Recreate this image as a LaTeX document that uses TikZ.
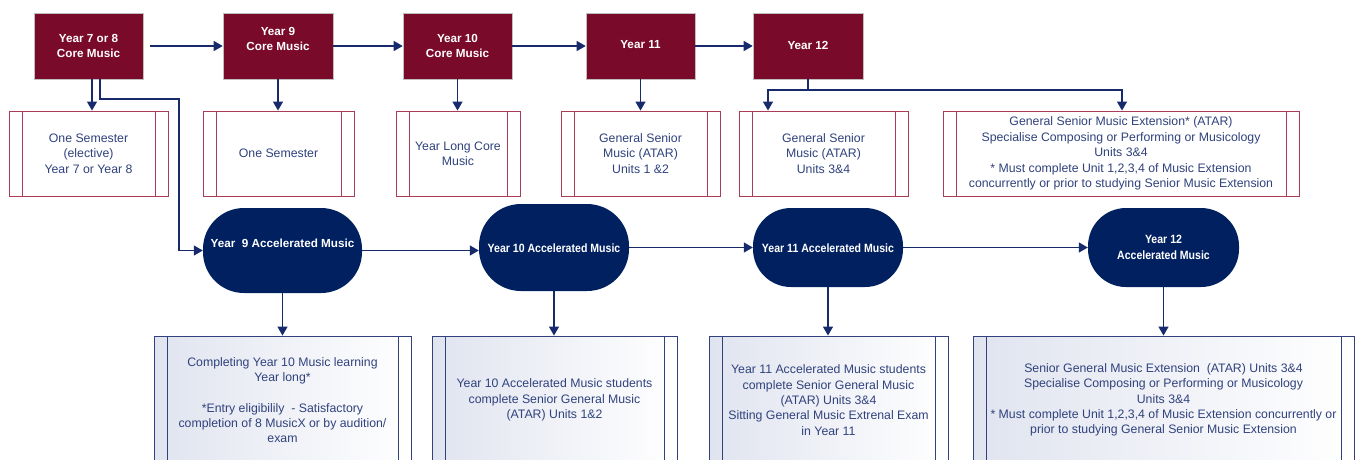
\documentclass[tikz,border=0pt]{standalone}
\usepackage{fontspec}
\setmainfont{Liberation Sans}
\newfontfamily\narrowsans{Liberation Sans}[FakeStretch=0.88]
\usetikzlibrary{arrows.meta}
\definecolor{cMaroon}{RGB}{122,10,42}
\definecolor{cNavy}{RGB}{0,32,96}
\definecolor{cArrow}{RGB}{22,42,108}
\definecolor{cRowLine}{RGB}{170,60,85}
\definecolor{cText}{RGB}{48,66,125}
\definecolor{cBotLine}{RGB}{50,65,125}
\definecolor{cShade}{RGB}{224,228,239}
\begin{document}
\begin{tikzpicture}[x=1pt,y=-1pt,
  topbox/.style={draw=black!25, line width=0.6pt, fill=cMaroon, inner sep=0, minimum height=66pt},
  toptext/.style={text=white, font=\fontsize{11.7pt}{15pt}\selectfont\bfseries, align=center, inner sep=0},
  procbox/.style={draw=cRowLine, line width=0.9pt, fill=white, inner sep=0, align=center, text=cText,
    minimum height=85pt, font=\fontsize{12.3pt}{15.4pt}\selectfont,
    path picture={\draw[cRowLine, line width=0.9pt]
      ([xshift=13pt]path picture bounding box.north west) -- ([xshift=13pt]path picture bounding box.south west)
      ([xshift=-13pt]path picture bounding box.north east) -- ([xshift=-13pt]path picture bounding box.south east);}},
  botbox/.style={draw=cBotLine, line width=0.9pt, left color=cShade, middle color=white, right color=white, inner sep=0, align=center, text=cText,
    minimum height=128pt, font=\fontsize{12.3pt}{15.3pt}\selectfont,
    path picture={\draw[cBotLine, line width=0.9pt]
      ([xshift=13pt]path picture bounding box.north west) -- ([xshift=13pt]path picture bounding box.south west)
      ([xshift=-13pt]path picture bounding box.north east) -- ([xshift=-13pt]path picture bounding box.south east);}},
  stad/.style={fill=cNavy, draw=none, inner sep=0},
  stadtext/.style={text=white, align=center, inner sep=0, font=\narrowsans\fontsize{12pt}{16pt}\selectfont\bfseries},
  arr/.style={draw=cArrow, line width=1.4pt, -{Triangle[length=9pt,width=10pt]}},
  conn/.style={draw=cArrow, line width=1.4pt}
]
\useasboundingbox (0,0) rectangle (1355,459);
\clip (0,0) rectangle (1355,459);

% top row
\node[topbox, minimum width=109pt] (t1) at (88.5,46) {};
\node[topbox, minimum width=110pt] (t2) at (278,46) {};
\node[topbox, minimum width=109pt] (t3) at (457.5,46) {};
\node[topbox, minimum width=109pt] (t4) at (640.5,46) {};
\node[topbox, minimum width=110pt] (t5) at (808,46) {};
\node[toptext] (t1l) at (88.5,45.5) {Year 7 or 8\\Core Music};
\node[toptext] (t2l) at (278,38.5) {Year 9\\Core Music};
\node[toptext] (t3l) at (457.5,45.5) {Year 10\\Core Music};
\node[toptext] (t4l) at (640.5,45) {Year 11};
\node[toptext] (t5l) at (808,45) {Year 12};

% second row
\node[procbox, minimum width=159pt] (r1) at (88.5,153.5) {One Semester\\(elective)\\Year 7 or Year 8};
\node[procbox, minimum width=151pt] (r2) at (278.5,153.5) {One Semester};
\node[procbox, minimum width=124pt] (r3) at (458,153.5) {Year Long Core\\Music};
\node[procbox, minimum width=159pt] (r4) at (640.5,153.5) {General Senior\\Music (ATAR)\\Units 1 \&2};
\node[procbox, minimum width=169pt] (r5) at (823.5,153.5) {General Senior\\Music (ATAR)\\Units 3\&4};
\node[procbox, minimum width=356pt] (r6) at (1121,153.5) {General Senior Music Extension* (ATAR)\\Specialise Composing or Performing or Musicology\\Units 3\&4\\* Must complete Unit 1,2,3,4 of Music Extension\\concurrently or prior to studying Senior Music Extension};

% accelerated row
\node[stad, minimum width=159pt, minimum height=85pt, rounded corners=41pt] (a1) at (282.5,250.5) {};
\node[stad, minimum width=150pt, minimum height=87pt, rounded corners=42pt] (a2) at (554,247.5) {};
\node[stad, minimum width=150pt, minimum height=79pt, rounded corners=38pt] (a3) at (828,247.5) {};
\node[stad, minimum width=151pt, minimum height=79pt, rounded corners=38pt] (a4) at (1163.5,247.5) {};
\node[stadtext, font=\fontsize{11.7pt}{15pt}\selectfont\bfseries] (a1l) at (282.5,243) {Year~ 9 Accelerated Music};
\node[stadtext] (a2l) at (554,248) {Year 10 Accelerated Music};
\node[stadtext] (a3l) at (828,248) {Year 11 Accelerated Music};
\node[stadtext] (a4l) at (1163.5,247) {Year 12\\Accelerated Music};

% bottom row
\node[botbox, minimum width=257pt] (b1) at (282.5,400) {Completing Year 10 Music learning\\Year long*\\[15.3pt]*Entry eligibilily~ - Satisfactory\\completion of 8 MusicX or by audition/\\exam};
\node[botbox, minimum width=245pt] (b2) at (554.5,400) {Year 10 Accelerated Music students\\complete Senior General Music\\(ATAR) Units 1\&2};
\node[botbox, minimum width=239pt] (b3) at (828.5,400) {Year 11 Accelerated Music students\\complete Senior General Music\\(ATAR) Units 3\&4\\Sitting General Music Extrenal Exam\\in Year 11};
\node[botbox, minimum width=381pt] (b4) at (1163.5,400) {Senior General Music Extension~ (ATAR) Units 3\&4\\Specialise Composing or Performing or Musicology\\Units 3\&4\\* Must complete Unit 1,2,3,4 of Music Extension concurrently or\\prior to studying General Senior Music Extension};

% top row connectors
\draw[arr] ([xshift=7pt]t1.east) -- (t2.west);
\draw[arr] (t2.east) -- (t3.west);
\draw[arr] (t3.east) -- (t4.west);
\draw[arr] (t4.east) -- (t5.west);

% down to second row
\draw[arr] ([xshift=3.5pt]t1.south) -- ([xshift=3.5pt]t1.south |- r1.north);
\draw[arr] (t2.south) -- (t2.south |- r2.north);
\draw[arr] (t3.south) -- (t3.south |- r3.north);
\draw[arr] (t4.south) -- (t4.south |- r4.north);
\coordinate (j5) at (808,90);
\draw[conn] (t5.south) -- (j5);
\draw[arr] (j5) -| ([xshift=-55.5pt]r5.north);
\draw[arr] (j5) -| ([xshift=1pt]r6.north);

% route to accelerated
\coordinate (k1) at (179,99);
\draw[arr] ([xshift=11.5pt]t1.south) |- (k1) |- (a1.west);

% accelerated connectors
\draw[arr] (a1.east) -- (a1.east -| a2.west);
\draw[arr] (a2.east) -- (a3.west);
\draw[arr] (a3.east) -- (a4.west);
\draw[arr] (a1.south) -- (a1.south |- b1.north);
\draw[arr] (a2.south) -- (a2.south |- b2.north);
\draw[arr] (a3.south) -- (a3.south |- b3.north);
\draw[arr] (a4.south) -- (a4.south |- b4.north);
\end{tikzpicture}
\end{document}
